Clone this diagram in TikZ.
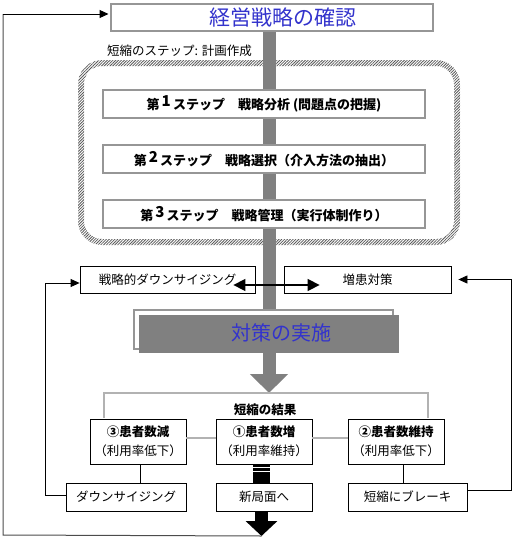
\documentclass[tikz,border=0pt]{standalone}
\usepackage{fontspec}
\setmainfont{Noto Sans CJK JP}
\usetikzlibrary{arrows.meta,patterns.meta,backgrounds}
\definecolor{ttl}{RGB}{51,51,204}
\definecolor{barc}{RGB}{128,128,128}
\definecolor{brd}{RGB}{150,150,150}
\begin{document}
\begin{tikzpicture}[x=1pt,y=-1pt,
  box/.style={draw, line width=0.8pt, fill=white, inner sep=0pt, align=center, font=\fontsize{12.5}{19}\selectfont},
  gbox/.style={draw=brd, line width=2pt, fill=white, inner sep=0pt, font=\fontsize{13}{15}\selectfont},
  lbl/.style={inner sep=0pt, font=\fontsize{12.5}{14}\selectfont},
  tip/.style={-{Triangle[width=8pt,length=9pt]}},
  conn/.style={gray!60, line width=1.5pt}]
\useasboundingbox (0,0) rectangle (514,538);
% top
\node[gbox, minimum width=322pt, minimum height=27pt] (top) at (272,17.5) {};
\node[inner sep=0pt, font=\fontsize{21}{24}\selectfont\color{ttl}] (ttxt) at (283,17.5) {経営戦略の確認};
\node[lbl, anchor=west] (plan) at (107,51) {短縮のステップ: 計画作成};
% steps
\node[gbox, minimum width=322pt, minimum height=28pt] (s1) at (264,104) {\bfseries 第\,\raisebox{3pt}{\fontsize{15}{15}\selectfont 1}\,ステップ\quad 戦略分析 (問題点の把握)};
\node[gbox, minimum width=322pt, minimum height=28pt] (s2) at (264,159) {\bfseries 第\,\raisebox{3pt}{\fontsize{15}{15}\selectfont 2}\,ステップ\quad 戦略選択（介入方法の抽出）};
\node[gbox, minimum width=322pt, minimum height=28pt] (s3) at (264,214) {\bfseries 第\,\raisebox{3pt}{\fontsize{15}{15}\selectfont 3}\,ステップ\quad 戦略管理（実行体制作り）};
% middle boxes
\node[box, minimum width=175pt, minimum height=27pt] (ds) at (167.5,279.5) {戦略的ダウンサイジング};
\node[box, minimum width=167pt, minimum height=27pt] (zk) at (367.5,279.5) {増患対策};
\node[draw=brd, line width=1.5pt, fill=white, minimum width=259pt, minimum height=39pt, inner sep=0pt] (back) at (263.5,329.5) {};
\node[fill=barc, minimum width=260pt, minimum height=38pt, inner sep=0pt] (jissi) at (269,334) {};
\node[inner sep=0pt, font=\fontsize{20}{24}\selectfont\color{ttl}] (jtxt) at (281.5,333) {対策の実施};
% results
\coordinate (bl) at (104,418);
\coordinate (btop) at (269,393);
\coordinate (br) at (428,418);
\node[lbl, font=\fontsize{12.5}{14}\selectfont\bfseries] (kekka) at (265,410) {短縮の結果};
\node[box, minimum width=96pt, minimum height=45pt] (r3) at (138,441.5) {\textbf{③患者数減}\\（利用率低下）};
\node[box, minimum width=96pt, minimum height=45pt] (r1) at (264,441.5) {\textbf{①患者数増}\\（利用率維持）};
\node[box, minimum width=96pt, minimum height=45pt] (r2) at (396,441.5) {\textbf{②患者数維持}\\（利用率低下）};
\node[box, minimum width=120pt, minimum height=28pt] (b3) at (126,497) {ダウンサイジング};
\node[box, minimum width=96pt, minimum height=28pt] (b1) at (264,497) {新局面へ};
\node[box, minimum width=119pt, minimum height=28pt] (b2) at (407.5,497) {短縮にブレーキ};
\coordinate (end) at (261.5,536);
% background: ring and grey bar
\begin{scope}[on background layer]
\fill[pattern={Lines[angle=45,distance=2pt,line width=0.8pt]}, pattern color=black!65, even odd rule]
  (78,60) [rounded corners=24pt] rectangle (460,245)
  (84,66) [rounded corners=18pt] rectangle (454,239);
\draw[barc, line width=13pt, -{Triangle[width=37pt,length=19pt]}] (top.south -| btop) -- (btop);
\end{scope}
% bracket and connectors
\draw[conn] (bl) |- (btop) -| (br);
\draw[conn] ([yshift=3.5pt]r3.east) -- ([yshift=3.5pt]r1.west);
\draw[conn] ([yshift=3.5pt]r1.east) -- ([yshift=3.5pt]r2.west);
\draw[line width=0.8pt] ([xshift=2pt]r3.south) -- ([xshift=2pt]r3.south |- b3.north);
\draw[line width=0.8pt] ([xshift=7pt]r2.south) -- ([xshift=7pt]r2.south |- b2.north);
% striped black link
\fill[black] (253,464) rectangle (270,483);
\draw[white, line width=1pt] (253,467.5) -- (270,467.5);
\draw[white, line width=1pt] (253,471.5) -- (270,471.5);
% bottom arrow
\draw[line width=13pt, -{Triangle[width=31pt,length=15pt]}] ([xshift=-2.5pt]b1.south) -- (end);
% double arrow
\draw[line width=1.5pt, {Triangle[width=12pt,length=12pt]}-{Triangle[width=12pt,length=12pt]}] ([xshift=-22pt,yshift=-5.5pt]ds.east) -- ([xshift=36pt,yshift=-5.5pt]zk.west);
% loops
\draw[line width=0.8pt, tip] ([yshift=2pt]b3.west) -- (45,495) -- (45,283) -- ([yshift=-3.5pt]ds.west);
\draw[line width=0.8pt, tip, shorten >=7pt] ([yshift=7pt]b2.east) -- (511,490) -- (511,279.5) -- (zk.east);
\draw[black!70, line width=1pt] (end) -- (3,535) -- (3,14);
\draw[line width=1pt, tip, shorten >=1.5pt] (3,14) -- (top.west |- 0,14);
\end{tikzpicture}
\end{document}
